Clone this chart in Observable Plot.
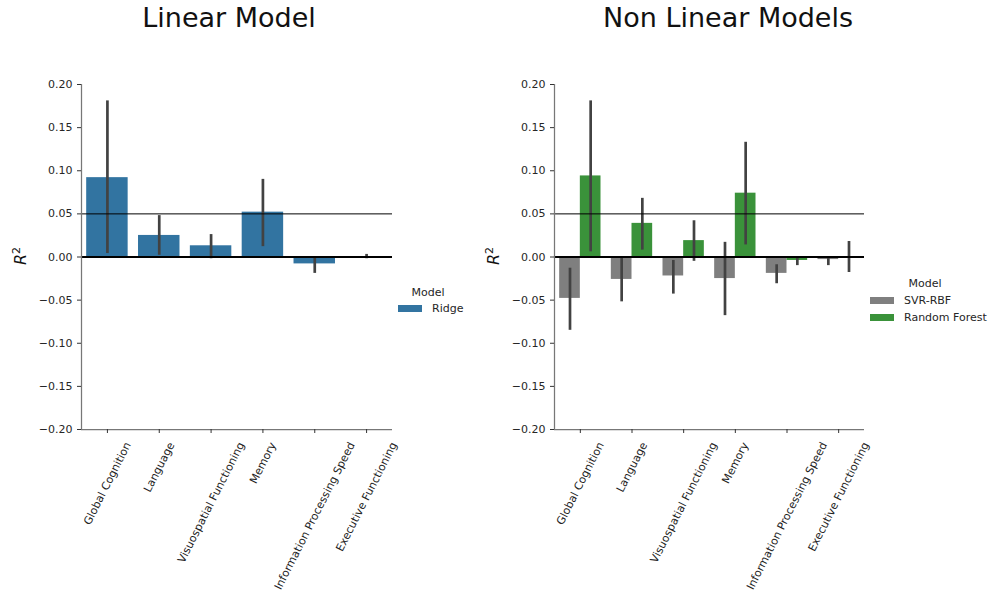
<!DOCTYPE html>
<html>
<head>
<meta charset="utf-8">
<script src="https://cdn.jsdelivr.net/npm/d3@7"></script>
<script src="https://cdn.jsdelivr.net/npm/@observablehq/plot@0.6"></script>
<style>
  html, body { margin: 0; padding: 0; background: white; }
  #root { position: relative; width: 992px; height: 602px; overflow: hidden; font-family: "DejaVu Sans", sans-serif; color: #262626; }
  .title { position: absolute; font-size: 27px; line-height: 27px; white-space: nowrap; transform: translateX(-50%); color: #111; }
  .ylab { position: absolute; font-size: 16px; white-space: nowrap; transform: translate(-50%, -50%) rotate(-90deg); color: #111; }
  .leg { position: absolute; font-size: 11px; line-height: 13px; white-space: nowrap; color: #262626; }
  .sw { position: absolute; width: 24px; height: 7px; }
  .plot { position: absolute; top: 0; }
</style>
</head>
<body>
<div id="root"></div>
<script>
// ---- data ----
const categories = ["Global Cognition", "Language", "Visuospatial Functioning", "Memory", "Information Processing Speed", "Executive Functioning"];
const ridgeMean = [0.092, 0.025, 0.013, 0.052, -0.008, -0.001];
const ridgeLow  = [0.004, 0.002, -0.002, 0.012, -0.019, -0.002];
const ridgeHigh = [0.181, 0.048, 0.026, 0.090, -0.001, 0.003];
const svrMean = [-0.048, -0.026, -0.022, -0.025, -0.019, -0.003];
const svrLow  = [-0.085, -0.052, -0.043, -0.068, -0.031, -0.010];
const svrHigh = [-0.013, 0.000, -0.004, 0.017, -0.009, 0.000];
const rfMean = [0.094, 0.039, 0.019, 0.074, -0.004, 0.000];
const rfLow  = [0.006, 0.008, -0.005, 0.014, -0.010, -0.018];
const rfHigh = [0.181, 0.068, 0.042, 0.133, -0.001, 0.018];
const yTicks = [-0.20, -0.15, -0.10, -0.05, 0.00, 0.05, 0.10, 0.15, 0.20];
const refLines = [0.05];
const zeroLine = [0];
const linearModels = ["Ridge"];
const linearColors = ["#3274a1"];
const nonLinearModels = ["SVR-RBF", "Random Forest"];
const nonLinearColors = ["#7f7f7f", "#3a923a"];
const titles = ["Linear Model", "Non Linear Models"];
const legendTitle = "Model";

const ridge = categories.map((c, i) => ({cat: c, model: "Ridge", v: ridgeMean[i], lo: ridgeLow[i], hi: ridgeHigh[i]}));
const svr = categories.map((c, i) => ({cat: c, model: "SVR-RBF", v: svrMean[i], lo: svrLow[i], hi: svrHigh[i]}));
const rf = categories.map((c, i) => ({cat: c, model: "Random Forest", v: rfMean[i], lo: rfLow[i], hi: rfHigh[i]}));

// ---- helpers ----
const XFS = 11;
const canvas = document.createElement("canvas");
const ctx = canvas.getContext("2d");
ctx.font = XFS + "px 'DejaVu Sans'";
const ANG = 63 * Math.PI / 180;
function labelDy(s) {
  const L = ctx.measureText(s).width;
  return 11 + (L * Math.sin(ANG) + XFS * Math.cos(ANG)) / 2;
}
const fmt = d3.format(".2f");
const H = 602, MT = 84, MB = 173;

function commonMarks(bw) {
  const marks = [];
  marks.push(Plot.axisY({ticks: yTicks, tickFormat: fmt, tickSize: 4, tickPadding: 5, fontSize: 11, stroke: "#333", label: null}));
  marks.push(Plot.axisX({tickSize: 4, tickFormat: () => "", stroke: "#333", label: null}));
  for (const c of categories) {
    marks.push(Plot.text([c], {x: d => d, text: d => d, frameAnchor: "bottom", rotate: -63, textAnchor: "middle", lineAnchor: "middle", dy: labelDy(c), fontSize: XFS, fill: "#222"}));
  }
  return marks;
}
function spineMarks(bw) {
  return [
    Plot.ruleY([yTicks[0]], {stroke: "#777", strokeWidth: 1.25}),
    Plot.ruleX([categories[0]], {dx: -bw / 2, stroke: "#777", strokeWidth: 1.25})
  ];
}
function refMarks() {
  return [
    Plot.ruleY(refLines, {stroke: "black", strokeWidth: 1}),
    Plot.ruleY(zeroLine, {stroke: "black", strokeWidth: 2})
  ];
}

const root = document.getElementById("root");

// ---- left panel ----
{
  const W = 472, ML = 81, MR = 80;
  const bw = (W - ML - MR) / categories.length;
  const p = Plot.plot({
    width: W, height: H, marginLeft: ML, marginRight: MR, marginTop: MT, marginBottom: MB,
    style: {fontFamily: "DejaVu Sans", fontSize: "11px", color: "#262626", background: "transparent", overflow: "visible"},
    x: {domain: categories, padding: 0, round: false, axis: null},
    y: {domain: [-0.2, 0.2], axis: null},
    marks: [
      Plot.barY(ridge, {x: "cat", y: "v", fill: linearColors[0], insetLeft: bw * 0.1, insetRight: bw * 0.1}),
      Plot.ruleX(ridge, {x: "cat", y1: "lo", y2: "hi", stroke: "#424242", strokeWidth: 2.7}),
      ...refMarks(),
      ...spineMarks(bw),
      ...commonMarks(bw)
    ]
  });
  p.classList.add("plot");
  p.style.left = "0px";
  root.appendChild(p);
}

// ---- right panel ----
{
  const W = 520, ML = 82, MR = 128, LEFT = 472;
  const bw = (W - ML - MR) / categories.length;
  const p = Plot.plot({
    width: W, height: H, marginLeft: ML, marginRight: MR, marginTop: MT, marginBottom: MB,
    style: {fontFamily: "DejaVu Sans", fontSize: "11px", color: "#262626", background: "transparent", overflow: "visible"},
    x: {domain: categories, padding: 0, round: false, axis: null},
    y: {domain: [-0.2, 0.2], axis: null},
    marks: [
      Plot.barY(svr, {x: "cat", y: "v", fill: nonLinearColors[0], insetLeft: bw * 0.1, insetRight: bw * 0.5}),
      Plot.barY(rf, {x: "cat", y: "v", fill: nonLinearColors[1], insetLeft: bw * 0.5, insetRight: bw * 0.1}),
      Plot.ruleX(svr, {x: "cat", y1: "lo", y2: "hi", dx: -bw * 0.2, stroke: "#424242", strokeWidth: 2.7}),
      Plot.ruleX(rf, {x: "cat", y1: "lo", y2: "hi", dx: bw * 0.2, stroke: "#424242", strokeWidth: 2.7}),
      ...refMarks(),
      ...spineMarks(bw),
      ...commonMarks(bw)
    ]
  });
  p.classList.add("plot");
  p.style.left = LEFT + "px";
  root.appendChild(p);
}

// ---- titles, y labels, legends ----
function addDiv(cls, html, styles) {
  const d = document.createElement("div");
  d.className = cls;
  d.innerHTML = html;
  Object.assign(d.style, styles);
  root.appendChild(d);
  return d;
}
addDiv("title", titles[0], {left: "229px", top: "4px"});
addDiv("title", titles[1], {left: "728px", top: "4px"});
addDiv("ylab", "<i>R</i><sup style='font-size:11px'>2</sup>", {left: "20px", top: "256px"});
addDiv("ylab", "<i>R</i><sup style='font-size:11px'>2</sup>", {left: "493px", top: "256px"});

function legend(models, colors, titleCx, titleCy, swX, firstCy, textX) {
  const t = addDiv("leg", legendTitle, {left: titleCx + "px", top: (titleCy - 6.5) + "px"});
  t.style.transform = "translateX(-50%)";
  models.forEach((m, i) => {
    const cy = firstCy + i * 16.5;
    addDiv("sw", "", {left: swX + "px", top: (cy - 3.5) + "px", background: colors[i]});
    addDiv("leg", m, {left: textX + "px", top: (cy - 6.5) + "px"});
  });
}
legend(linearModels, linearColors, 428, 292, 398, 308.5, 432);
legend(nonLinearModels, nonLinearColors, 925, 283, 870, 300.5, 904);
</script>
</body>
</html>
